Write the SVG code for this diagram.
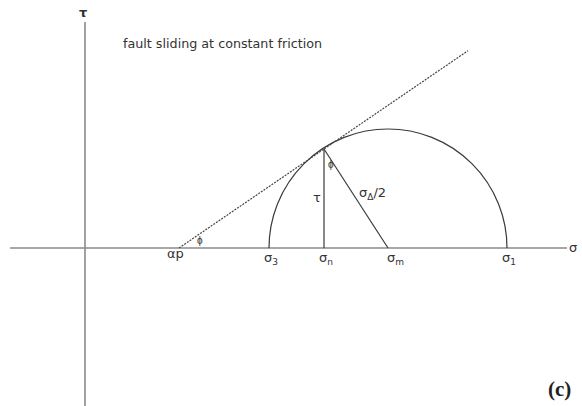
<svg xmlns="http://www.w3.org/2000/svg" width="582" height="406" viewBox="0 0 582 406">
<style>
.axis{stroke:#8a8a8a;stroke-width:1.6;fill:none}
.ln{stroke:#3a3a3a;stroke-width:1.2;fill:none}
.dash{stroke:#444;stroke-width:1.2;stroke-dasharray:2 1.2;fill:none}
.t{font-family:"Liberation Sans","DejaVu Sans",sans-serif;fill:#333}
.lab{font-family:"DejaVu Sans","Liberation Sans",sans-serif;fill:#333;font-size:13px}
.sub{font-size:9px}
</style>
<rect width="582" height="406" fill="#fff"/>
<g id="axes">
<line class="axis" x1="10" y1="248" x2="567" y2="248"/>
<line class="axis" x1="85" y1="22" x2="85" y2="406"/>
</g>
<g id="mohr">
<path class="ln" d="M269 248 A119 119 0 0 1 507 248"/>
<line class="dash" x1="179" y1="248" x2="468" y2="50.7"/>
<line class="ln" x1="324" y1="149" x2="324" y2="248"/>
<line class="ln" x1="324" y1="149" x2="388" y2="248"/>
</g>
<g id="labels">
<text class="lab" x="79" y="17" font-weight="bold">τ</text>
<text class="lab" x="569" y="252">σ</text>
<text class="t" x="123" y="48" font-size="11.5" textLength="199" lengthAdjust="spacingAndGlyphs" style="font-family:'DejaVu Sans',sans-serif">fault sliding at constant friction</text>
<text class="lab" x="167" y="258">αp</text>
<text class="lab" x="264" y="262">σ<tspan class="sub" dy="3">3</tspan></text>
<text class="lab" x="319" y="262">σ<tspan class="sub" dy="3">n</tspan></text>
<text class="lab" x="387" y="262">σ<tspan class="sub" dy="3">m</tspan></text>
<text class="lab" x="502" y="262">σ<tspan class="sub" dy="3">1</tspan></text>
<text class="lab" x="313" y="202" font-size="12">τ</text>
<text class="lab" x="359" y="197" font-size="12">σ<tspan class="sub" dy="3">Δ</tspan><tspan dy="-3">/2</tspan></text>
<text class="t" x="328" y="168" font-size="10">ϕ</text>
<text class="t" x="197" y="244" font-size="10">ϕ</text>
<text x="548" y="396" font-family="Liberation Serif,serif" font-size="21" font-weight="bold" fill="#222">(c)</text>
</g>
</svg>
